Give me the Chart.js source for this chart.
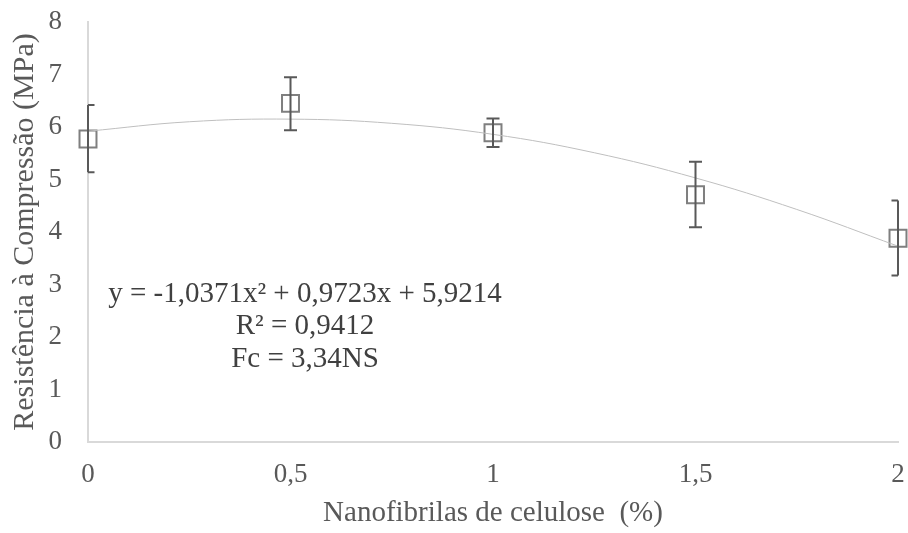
<!DOCTYPE html>
<html>
<head>
<meta charset="utf-8">
<script src="https://cdn.jsdelivr.net/npm/chart.js@4/dist/chart.umd.min.js"></script>
<style>
  html, body { margin: 0; padding: 0; background: #fff; }
  #wrap { width: 908px; height: 533px; }
</style>
</head>
<body>
<div id="wrap"><canvas id="myChart" width="908" height="533"></canvas></div>
<script>
// dados
var doses = [0, 0.5, 1, 1.5, 2];
var medias = [5.77, 6.45, 5.89, 4.71, 3.88];
var erroSup = [6.42, 6.95, 6.16, 5.34, 4.60];
var erroInf = [5.14, 5.94, 5.62, 4.09, 3.17];
// linha de tendencia
var trendX = [0, 0.25, 0.5, 0.75, 1, 1.25, 1.5, 1.75, 2];
var trendY = [5.92, 6.10, 6.15, 6.07, 5.86, 5.51, 5.03, 4.43, 3.73];
var eqLines = ['y = -1,0371x\u00b2 + 0,9723x + 5,9214', 'R\u00b2 = 0,9412', 'Fc = 3,34NS'];
var xTicks = [0, 0.5, 1, 1.5, 2];

var fonte = "'Liberation Serif', 'Times New Roman', serif";
var cinza = '#595959';

var errorBars = {
	id: 'errorBars',
	afterDatasetsDraw: function(chart) {
		var ctx = chart.ctx;
		var xs = chart.scales.x, ys = chart.scales.y;
		var area = chart.chartArea;
		ctx.save();
		ctx.strokeStyle = cinza;
		ctx.lineWidth = 2;
		for (var i = 0; i < doses.length; i++) {
			var px = xs.getPixelForValue(doses[i]);
			var top = ys.getPixelForValue(erroSup[i]);
			var bot = ys.getPixelForValue(erroInf[i]);
			// a barra do Excel corta o traco no limite da area
			var l = Math.max(px - 6.5, area.left);
			var r = Math.min(px + 6.5, area.right);
			ctx.beginPath();
			ctx.moveTo(px, top); ctx.lineTo(px, bot);
			ctx.moveTo(l, top); ctx.lineTo(r, top);
			ctx.moveTo(l, bot); ctx.lineTo(r, bot);
			ctx.stroke();
		}
		ctx.restore();
	}
};

var equacao = {
	id: 'equacao',
	afterDraw: function(chart) {
		var ctx = chart.ctx;
		ctx.save();
		ctx.fillStyle = '#404040';
		ctx.font = '29px ' + fonte;
		ctx.textAlign = 'center';
		ctx.textBaseline = 'middle';
		for (var i = 0; i < eqLines.length; i++) {
			ctx.fillText(eqLines[i], 305, 294 + i * 32.5);
		}
		ctx.restore();
	}
};

var ctx = document.getElementById('myChart');
var myChart = new Chart(ctx, {
	type: 'scatter',
	data: {
		datasets: [{
			type: 'line',
			data: trendX.map(function(x, i) { return {x: x, y: trendY[i]}; }),
			borderColor: '#bfbfbf',
			borderWidth: 1,
			pointRadius: 0,
			tension: 0.4,
			fill: false
		}, {
			data: doses.map(function(x, i) { return {x: x, y: medias[i]}; }),
			pointStyle: 'rect',
			pointRadius: 12,
			pointBorderWidth: 2,
			pointBorderColor: '#7f7f7f',
			pointBackgroundColor: 'rgba(0,0,0,0)',
			clip: false
		}]
	},
	options: {
		responsive: false,
		animation: false,
		layout: { autoPadding: false, padding: { top: 22, right: 10, left: 0, bottom: 2 } },
		plugins: {
			legend: { display: false },
			tooltip: { enabled: false }
		},
		scales: {
			x: {
				type: 'linear',
				min: 0, max: 2,
				afterBuildTicks: function(scale) {
					scale.ticks = xTicks.map(function(v) { return {value: v}; });
				},
				afterFit: function(scale) {
					scale.height = 89;
					scale.paddingLeft = 0;
					scale.paddingRight = 0;
				},
				grid: { display: false, drawTicks: false },
				border: { color: '#d9d9d9', width: 2 },
				ticks: {
					color: cinza,
					font: { family: fonte, size: 27 },
					padding: 17,
					maxRotation: 0,
					callback: function(v) { return String(v).replace('.', ','); }
				},
				title: {
					display: true,
					text: 'Nanofibrilas de celulose  (%)',
					color: cinza,
					font: { family: fonte, size: 29 },
					padding: { top: 0, bottom: 0 }
				}
			},
			y: {
				min: 0, max: 8,
				afterFit: function(scale) {
					scale.width = 88;
					scale.paddingTop = 0;
					scale.paddingBottom = 0;
				},
				grid: { display: false, drawTicks: false },
				border: { color: '#d9d9d9', width: 2 },
				ticks: {
					stepSize: 1,
					color: cinza,
					font: { family: fonte, size: 27 },
					padding: 26
				},
				title: {
					display: true,
					text: 'Resistência à Compressão (MPa)',
					color: cinza,
					font: { family: fonte, size: 30 },
					padding: 7
				}
			}
		}
	},
	plugins: [errorBars, equacao]
});
</script>
</body>
</html>
